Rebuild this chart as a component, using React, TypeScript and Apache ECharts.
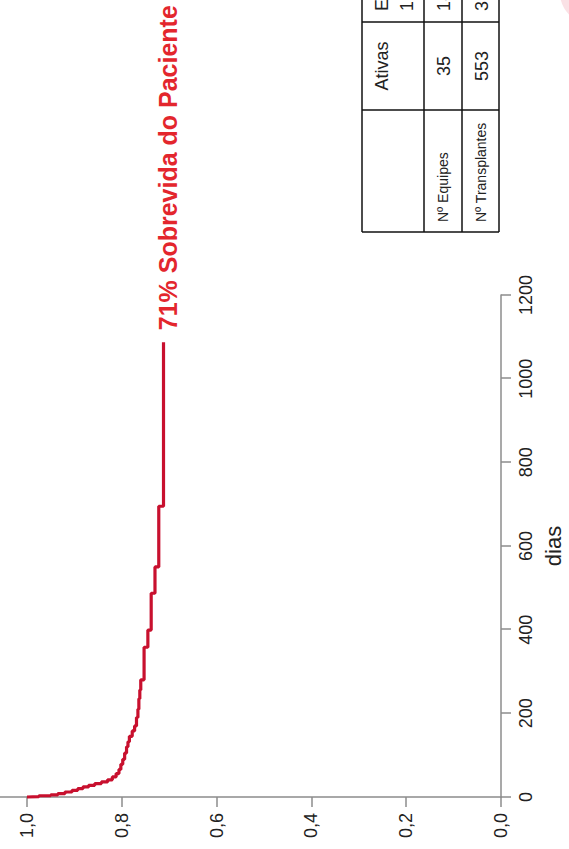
import React, { useEffect, useRef } from 'react';
import * as echarts from 'echarts';

// Kaplan-Meier survival curve (days, survival proportion)
const days = [0, 1, 3, 5, 8, 12, 16, 20, 24, 28, 32, 36, 41, 48, 56, 66, 78, 90, 105, 120, 132, 145, 158, 170, 190, 210, 235, 256, 280, 358, 399, 487, 550, 695, 1087];
const survival = [1.0, 0.975, 0.95, 0.935, 0.92, 0.905, 0.893, 0.882, 0.87, 0.857, 0.843, 0.83, 0.82, 0.812, 0.806, 0.802, 0.798, 0.794, 0.79, 0.787, 0.784, 0.778, 0.773, 0.769, 0.766, 0.764, 0.762, 0.76, 0.753, 0.745, 0.738, 0.73, 0.722, 0.712, 0.712];

const dayMin = 0;
const dayMax = 1200;
const dayInterval = 200;
const survivalMin = 0;
const survivalMax = 1;
const survivalInterval = 0.2;

const endLabelText = '71% Sobrevida do Paciente';
const xAxisTitle = 'dias';

// Table
const tableHeaderLine1 = ['Ativas', 'Efetivas'];
const tableHeaderLine2 = ['', '12 meses'];
const tableRowLabels = ['Nº Equipes', 'Nº Transplantes'];
const activeValues = ['35', '553'];
const effectiveValues = ['18', '329'];

const W = 849;
const H = 569;

export default function App() {
  const ref = useRef<HTMLDivElement>(null);

  useEffect(() => {
    if (!ref.current) return;
    const chart = echarts.init(ref.current, null, { renderer: 'svg', width: W, height: H });
    const font = '"Liberation Sans", Arial, sans-serif';
    const axisColor = '#8c8c8c';
    const textColor = '#222';

    // table geometry (in the unrotated chart frame)
    const colU = [617, 739, 827, 915];
    const rowV = [362, 424, 462, 499];
    const tStroke = { stroke: '#111', lineWidth: 1.5 };
    const graphics: any[] = [];
    rowV.forEach((v) =>
      graphics.push({ type: 'line', silent: true, shape: { x1: colU[0], y1: v, x2: colU[3], y2: v }, style: tStroke })
    );
    colU.forEach((u) =>
      graphics.push({ type: 'line', silent: true, shape: { x1: u, y1: rowV[0], x2: u, y2: rowV[3] }, style: tStroke })
    );
    const rowCenters = [443, 481];
    // header
    graphics.push({
      type: 'text', silent: true, x: (colU[1] + colU[2]) / 2, y: 382,
      style: { text: tableHeaderLine1[0], fontSize: 18, fontFamily: font, fill: textColor, align: 'center', verticalAlign: 'middle' },
    });
    graphics.push({
      type: 'text', silent: true, x: 838, y: 382,
      style: { text: tableHeaderLine1[1], fontSize: 18, fontFamily: font, fill: textColor, align: 'left', verticalAlign: 'middle' },
    });
    graphics.push({
      type: 'text', silent: true, x: 838, y: 407,
      style: { text: tableHeaderLine2[1], fontSize: 18, fontFamily: font, fill: textColor, align: 'left', verticalAlign: 'middle' },
    });
    tableRowLabels.forEach((lab, i) => {
      graphics.push({
        type: 'text', silent: true, x: 627, y: rowCenters[i],
        style: { text: lab, fontSize: 14, fontFamily: font, fill: textColor, align: 'left', verticalAlign: 'middle' },
      });
      graphics.push({
        type: 'text', silent: true, x: (colU[1] + colU[2]) / 2, y: rowCenters[i] + 1,
        style: { text: activeValues[i], fontSize: 18, fontFamily: font, fill: textColor, align: 'center', verticalAlign: 'middle' },
      });
      graphics.push({
        type: 'text', silent: true, x: 838, y: rowCenters[i] + 1,
        style: { text: effectiveValues[i], fontSize: 18, fontFamily: font, fill: textColor, align: 'left', verticalAlign: 'middle' },
      });
    });
    // survival axis extension above 1,0
    graphics.push({
      type: 'line', silent: true, shape: { x1: 52, y1: 0, x2: 52, y2: 27 },
      style: { stroke: axisColor, lineWidth: 1.5 },
    });
    // faint pink decoration at corner
    graphics.push({
      type: 'circle', silent: true, shape: { cx: 856, cy: 590, r: 30 },
      style: { fill: 'rgba(232,120,138,0.22)' },
    });

    chart.setOption({
      animation: false,
      backgroundColor: '#fff',
      grid: { left: 52, right: W - 554, top: 27, bottom: H - 505 },
      xAxis: {
        type: 'value',
        min: dayMin,
        max: dayMax,
        interval: dayInterval,
        name: xAxisTitle,
        nameLocation: 'middle',
        nameGap: 41,
        nameTextStyle: { fontSize: 22, color: textColor, fontFamily: font },
        axisLine: { show: true, lineStyle: { color: axisColor, width: 1.5 } },
        axisTick: { show: true, length: 10, lineStyle: { color: axisColor, width: 1.5 } },
        axisLabel: {
          fontSize: 18,
          color: textColor,
          margin: 16,
          fontFamily: font,
          formatter: (v: number) => String(v),
        },
        splitLine: { show: false },
      },
      yAxis: {
        type: 'value',
        min: survivalMin,
        max: survivalMax,
        interval: survivalInterval,
        axisLine: { show: true, lineStyle: { color: axisColor, width: 1.5 } },
        axisTick: { show: true, length: 10, lineStyle: { color: axisColor, width: 1.5 } },
        axisLabel: {
          fontSize: 18,
          color: textColor,
          margin: 16,
          fontFamily: font,
          formatter: (v: number) => v.toFixed(1).replace('.', ','),
        },
        splitLine: { show: false },
      },
      series: [
        {
          type: 'line',
          data: days.map((d, i) => [d, survival[i]]),
          step: 'end',
          showSymbol: false,
          symbol: 'none',
          silent: true,
          lineStyle: { color: '#c8102e', width: 3.2 },
          itemStyle: { color: '#c8102e' },
          endLabel: {
            show: true,
            formatter: endLabelText,
            color: '#e3262d',
            fontWeight: 'bold',
            fontSize: 25,
            fontFamily: font,
            distance: 12,
            offset: [0, 4],
          },
        },
      ],
      graphic: graphics,
    });

    return () => {
      chart.dispose();
    };
  }, []);

  return (
    <div
      style={{
        position: 'fixed',
        left: 0,
        top: 0,
        width: 569,
        height: 849,
        overflow: 'hidden',
        background: '#fff',
      }}
    >
      <div
        ref={ref}
        style={{
          position: 'absolute',
          left: 0,
          top: 0,
          width: W,
          height: H,
          transformOrigin: '0 0',
          transform: `translate(0px, ${W}px) rotate(-90deg)`,
        }}
      />
    </div>
  );
}
